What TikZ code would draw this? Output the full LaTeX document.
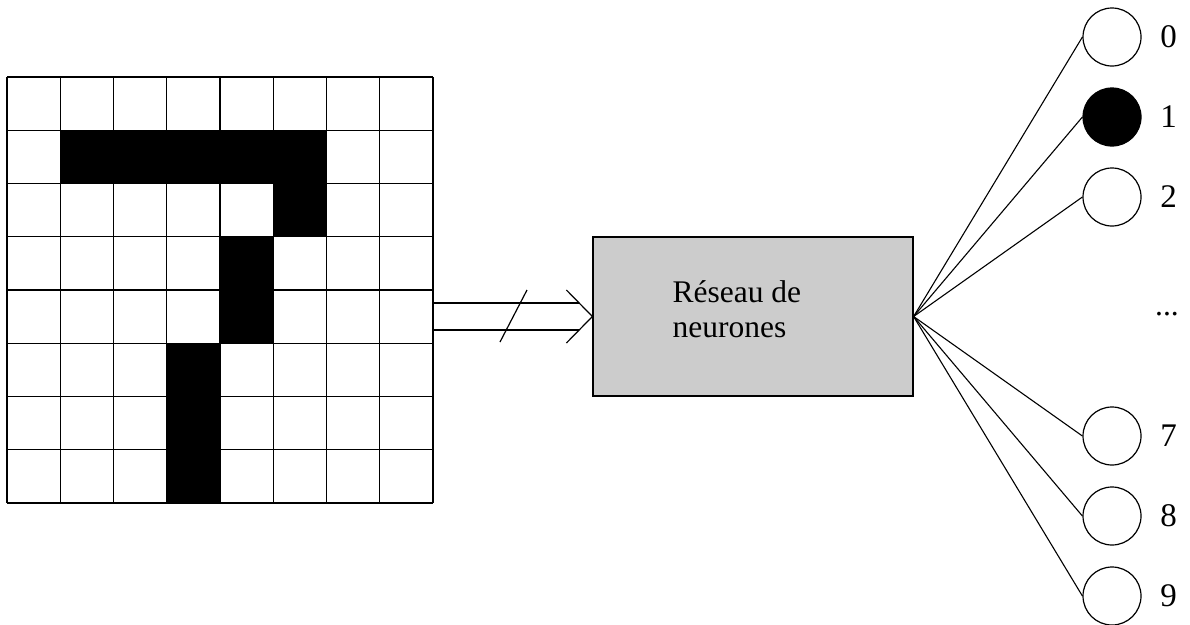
\documentclass[tikz,border=0pt]{standalone}
\usepackage{fontspec}
\setmainfont{Liberation Serif}
\usepackage{tikz}
\usetikzlibrary{positioning}
\definecolor{boxgray}{RGB}{204,204,204}

\begin{document}
\begin{tikzpicture}[x=1pt,y=-1pt,font=\fontsize{31.5}{35.5}\selectfont]

	\tikzstyle grid lines=[line width=1.3pt];
	\tikzstyle pixel=[fill=black];
	\tikzstyle network=[draw, line width=1.2pt, fill=boxgray, minimum width=320pt, minimum height=159pt, inner sep=0pt];
	\tikzstyle neuron=[draw, circle, line width=1.2pt, minimum size=58pt, inner sep=0pt];
	\tikzstyle digit=[font=\fontsize{33}{36}\selectfont];
	\tikzstyle fan lines=[line width=1.1pt];
	\tikzstyle arrow lines=[line width=1.2pt];

	\useasboundingbox (0,0) rectangle (1190,624);

	% the digit, pixel by pixel
	\fill[pixel] (60.25,130.25) rectangle (326.5,183.5);
	\fill[pixel] (273.25,183.5) rectangle (326.5,236.75);
	\fill[pixel] (220,236.75) rectangle (273.25,343.25);
	\fill[pixel] (166.75,343.25) rectangle (220,503);
	\foreach \i in {0,...,8} {
		\draw[grid lines] (7+53.25*\i,77) -- (7+53.25*\i,503);
		\draw[grid lines] (7,77+53.25*\i) -- (433,77+53.25*\i);
	}
	\coordinate (gridE) at (433,316.5);

	% the network
	\node[network] (reseau) at (753,316.5) {};
	\node[anchor=west, align=left, inner sep=0pt] (lbl) at ([xshift=80pt,yshift=7.5pt]reseau.west) {Réseau de\\neurones};

	% input bus
	\draw[arrow lines] ([yshift=13.5pt]gridE) -- ([xshift=-13pt,yshift=13.5pt]reseau.west);
	\draw[arrow lines] ([yshift=-13.5pt]gridE) -- ([xshift=-13pt,yshift=-13.5pt]reseau.west);
	\draw[arrow lines] ([xshift=-26pt,yshift=26.5pt]reseau.west) -- (reseau.west) -- ([xshift=-26pt,yshift=-26.5pt]reseau.west);
	\coordinate (cut) at (513.5,316);
	\draw[arrow lines] ([xshift=-13.5pt,yshift=-26pt]cut) -- ([xshift=13.5pt,yshift=26pt]cut);

	% outputs
	\node[neuron] (out0) at (1112,37) {};
	\node[neuron, fill=black] (out1) at (1112,117) {};
	\node[neuron] (out2) at (1112,197) {};
	\node[neuron] (out7) at (1112,436) {};
	\node[neuron] (out8) at (1112,516) {};
	\node[neuron] (out9) at (1112,596) {};

	\node[digit] (lbl0) at (1168.5,37) {0};
	\node[digit] (lbl1) at (1168.5,117) {1};
	\node[digit] (lbl2) at (1168.5,197) {2};
	\node (dots) at (1167,314) {...};
	\node[digit] (lbl7) at (1168.5,436) {7};
	\node[digit] (lbl8) at (1168.5,516) {8};
	\node[digit] (lbl9) at (1168.5,596) {9};

	\draw[fan lines] (reseau.east) -- (out0.west);
	\draw[fan lines] (reseau.east) -- (out1.west);
	\draw[fan lines] (reseau.east) -- (out2.west);
	\draw[fan lines] (reseau.east) -- (out7.west);
	\draw[fan lines] (reseau.east) -- (out8.west);
	\draw[fan lines] (reseau.east) -- (out9.west);

\end{tikzpicture}
\end{document}
